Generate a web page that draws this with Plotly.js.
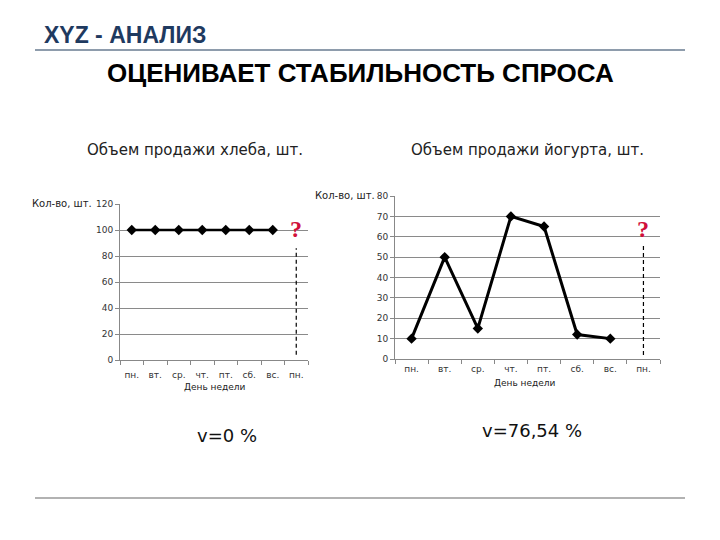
<!DOCTYPE html>
<html>
<head>
<meta charset="utf-8">
<script src="https://cdn.plot.ly/plotly-3.0.1.min.js"></script>
<style>html,body{margin:0;padding:0;background:#fff;}#chart{width:720px;height:540px;}</style>
</head>
<body>
<div id="chart"></div>
<script>
// Data
const days = ["пн.", "вт.", "ср.", "чт.", "пт.", "сб.", "вс.", "пн."];
const breadSales = [100, 100, 100, 100, 100, 100, 100];
const yogurtSales = [10, 50, 15, 70, 65, 12, 10];
const breadTitle = "Объем продажи хлеба, шт.";
const yogurtTitle = "Объем продажи йогурта, шт.";
const breadV = "v=0 %";
const yogurtV = "v=76,54 %";
const yTitle = "Кол-во, шт.";
const xTitle = "День недели";

const xIdx = days.map((d, i) => i);
const tickFont = {family: "DejaVu Sans", size: 9, color: "#333"};

function xAxis(domain, anchor, standoff) {
  return {
    domain: domain, anchor: anchor, range: [-0.5, 7.5],
    tickmode: "array", tickvals: xIdx, ticktext: days, ticks: "",
    ticklabelstandoff: standoff,
    showgrid: false, zeroline: false, showline: true, linecolor: "#888", linewidth: 1,
    tickfont: tickFont, fixedrange: true,
    minor: {tick0: 0.5, dtick: 1, ticks: "outside", ticklen: 4, tickcolor: "#888", showgrid: false}
  };
}
function yAxis(domain, anchor, max, dtick) {
  return {
    domain: domain, anchor: anchor, range: [0, max], dtick: dtick,
    ticks: "outside", ticklen: 4, tickcolor: "#888",
    showgrid: true, gridcolor: "#8a8a8a", gridwidth: 1,
    zeroline: false, showline: true, linecolor: "#888", linewidth: 1,
    tickfont: tickFont, fixedrange: true
  };
}

const traces = [
  {x: xIdx.slice(0, breadSales.length), y: breadSales, xaxis: "x", yaxis: "y",
   mode: "lines+markers", line: {color: "#000", width: 2.5},
   marker: {symbol: "diamond", size: 8, color: "#000"}, hoverinfo: "skip"},
  {x: xIdx.slice(0, yogurtSales.length), y: yogurtSales, xaxis: "x2", yaxis: "y2",
   mode: "lines+markers", line: {color: "#000", width: 3},
   marker: {symbol: "diamond", size: 8, color: "#000"}, hoverinfo: "skip"}
];

const layout = {
  width: 720, height: 540,
  margin: {l: 0, r: 0, t: 0, b: 0},
  paper_bgcolor: "#fff", plot_bgcolor: "#fff",
  showlegend: false,
  xaxis: xAxis([120/720, 308/720], "y", 6),
  yaxis: yAxis([1 - 360/540, 1 - 204/540], "x", 120, 20),
  xaxis2: xAxis([395/720, 660/720], "y2", 1),
  yaxis2: yAxis([1 - 359/540, 1 - 196/540], "x2", 80, 10),
  shapes: [
    {type: "line", xref: "paper", yref: "paper", x0: 35/720, x1: 685/720, y0: 1 - 50/540, y1: 1 - 50/540,
     line: {color: "#1f3a5a", width: 1.2}},
    {type: "line", xref: "paper", yref: "paper", x0: 35/720, x1: 685/720, y0: 1 - 498/540, y1: 1 - 498/540,
     line: {color: "#666", width: 1.2}},
    {type: "line", xref: "x", yref: "y", x0: 7, x1: 7, y0: 4, y1: 86,
     line: {color: "#000", width: 1.2, dash: "4px,3px"}},
    {type: "line", xref: "x2", yref: "y2", x0: 7, x1: 7, y0: 2, y1: 56,
     line: {color: "#000", width: 1.2, dash: "4px,3px"}}
  ],
  annotations: [
    {text: "<b>XYZ - АНАЛИЗ</b>", xref: "paper", yref: "paper", x: 42/720, y: 1 - 35/540,
     xanchor: "left", yanchor: "middle", showarrow: false,
     font: {family: "Liberation Sans", size: 23, color: "#1f3a60"}},
    {text: "<b>ОЦЕНИВАЕТ СТАБИЛЬНОСТЬ СПРОСА</b>", xref: "paper", yref: "paper", x: 360/720, y: 1 - 73/540,
     xanchor: "center", yanchor: "middle", showarrow: false,
     font: {family: "Liberation Sans", size: 26, color: "#000"}},
    {text: breadTitle, xref: "paper", yref: "paper", x: 195/720, y: 1 - 150/540,
     xanchor: "center", yanchor: "middle", showarrow: false,
     font: {family: "DejaVu Sans", size: 15, color: "#222"}},
    {text: yogurtTitle, xref: "paper", yref: "paper", x: 527/720, y: 1 - 150/540,
     xanchor: "center", yanchor: "middle", showarrow: false,
     font: {family: "DejaVu Sans", size: 15, color: "#222"}},
    {text: yTitle, xref: "paper", yref: "paper", x: 94/720, y: 1 - 203/540,
     xanchor: "right", yanchor: "middle", showarrow: false,
     font: {family: "DejaVu Sans", size: 10, color: "#222"}},
    {text: yTitle, xref: "paper", yref: "paper", x: 377/720, y: 1 - 196/540,
     xanchor: "right", yanchor: "middle", showarrow: false,
     font: {family: "DejaVu Sans", size: 10, color: "#222"}},
    {text: xTitle, xref: "paper", yref: "paper", x: 215/720, y: 1 - 387/540,
     xanchor: "center", yanchor: "middle", showarrow: false,
     font: {family: "DejaVu Sans", size: 9, color: "#222"}},
    {text: xTitle, xref: "paper", yref: "paper", x: 525/720, y: 1 - 383/540,
     xanchor: "center", yanchor: "middle", showarrow: false,
     font: {family: "DejaVu Sans", size: 9, color: "#222"}},
    {text: "<b>?</b>", xref: "x", yref: "y", x: 7, y: 100.5, xanchor: "center", yanchor: "middle", showarrow: false,
     font: {family: "Liberation Serif", size: 24, color: "#d0103a"}},
    {text: "<b>?</b>", xref: "x2", yref: "y2", x: 7, y: 64, xanchor: "center", yanchor: "middle", showarrow: false,
     font: {family: "Liberation Serif", size: 24, color: "#d0103a"}},
    {text: breadV, xref: "paper", yref: "paper", x: 227/720, y: 1 - 435/540,
     xanchor: "center", yanchor: "middle", showarrow: false,
     font: {family: "DejaVu Sans", size: 18, color: "#111"}},
    {text: yogurtV, xref: "paper", yref: "paper", x: 532/720, y: 1 - 430/540,
     xanchor: "center", yanchor: "middle", showarrow: false,
     font: {family: "DejaVu Sans", size: 18, color: "#111"}}
  ]
};

Plotly.newPlot("chart", traces, layout, {staticPlot: true, displayModeBar: false});
</script>
</body>
</html>
